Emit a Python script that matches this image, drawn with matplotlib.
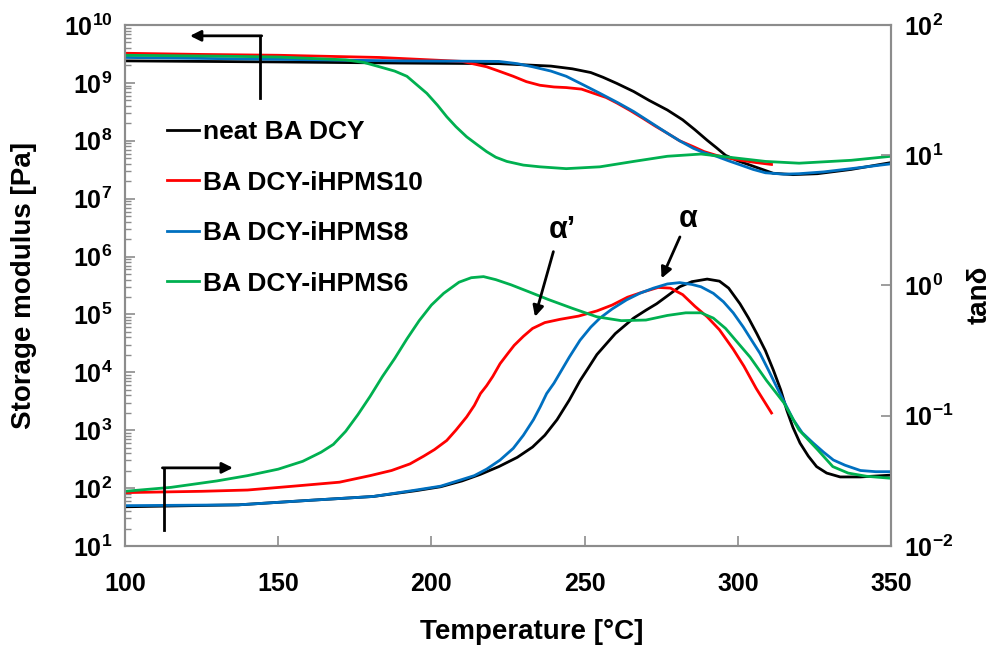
import matplotlib
matplotlib.use("Agg")
import matplotlib.pyplot as plt
from matplotlib.ticker import LogLocator, NullLocator, NullFormatter

plt.rcParams['font.family'] = ['Liberation Sans', 'DejaVu Sans']
plt.rcParams['font.weight'] = 'bold'
plt.rcParams['mathtext.fontset'] = 'custom'
plt.rcParams['mathtext.rm'] = 'Liberation Sans:bold'
plt.rcParams['mathtext.bf'] = 'Liberation Sans:bold'
plt.rcParams['mathtext.it'] = 'Liberation Sans:bold'

# storage modulus E' [Pa] vs temperature [°C]
t_e_neat = [100, 150, 190, 222, 239, 246, 252, 256, 260.5, 266, 271, 277, 282,
            286, 290, 293, 296, 300, 304, 308, 311.5, 318, 326, 337, 350]
e_neat = [2.4e9, 2.3e9, 2.2e9, 2.15e9, 1.95e9, 1.75e9, 1.51e9, 1.25e9, 9.8e8,
          7.1e8, 5.0e8, 3.4e8, 2.3e8, 1.55e8, 1.02e8, 7.6e7, 5.6e7, 4.5e7,
          3.8e7, 3.2e7, 2.75e7, 2.6e7, 2.7e7, 3.2e7, 4.2e7]

t_e_10 = [100, 125, 150, 183, 210, 218, 222, 226.7, 231, 235.4, 240, 244, 249,
          253, 257, 260.5, 265, 269, 273, 277, 281, 285.5, 289, 293, 297, 301,
          306, 311]
e_10 = [3.25e9, 3.1e9, 3.0e9, 2.75e9, 2.35e9, 1.9e9, 1.6e9, 1.3e9, 1.05e9,
        9.1e8, 8.5e8, 8.3e8, 7.8e8, 6.6e8, 5.6e8, 4.5e8, 3.3e8, 2.45e8, 1.8e8,
        1.35e8, 1.0e8, 7.9e7, 6.5e7, 5.6e7, 5.0e7, 4.6e7, 4.2e7, 3.9e7]

t_e_8 = [100, 150, 190, 222, 228, 233, 239, 244, 250, 255, 261, 266, 272, 277,
         281, 285.5, 289, 293, 297, 301, 305, 309, 315, 320, 328, 337, 350]
e_8 = [2.75e9, 2.55e9, 2.4e9, 2.35e9, 2.15e9, 1.9e9, 1.6e9, 1.3e9, 9.0e8,
       6.6e8, 4.5e8, 3.2e8, 2.0e8, 1.35e8, 1.0e8, 7.4e7, 6.2e7, 5.4e7, 4.5e7,
       3.8e7, 3.2e7, 2.8e7, 2.65e7, 2.7e7, 2.9e7, 3.3e7, 4.0e7]

t_e_6 = [100, 130, 150, 172, 178, 183, 188, 192, 195, 198.5, 202, 205, 208,
         211.5, 215, 218, 221, 224.6, 230, 235.4, 244, 255, 266, 277, 288,
         298.5, 309, 320, 337, 350]
e_6 = [3.0e9, 2.9e9, 2.8e9, 2.5e9, 2.25e9, 1.9e9, 1.6e9, 1.3e9, 9.5e8, 6.6e8,
       4.1e8, 2.6e8, 1.75e8, 1.17e8, 8.5e7, 6.5e7, 5.2e7, 4.4e7, 3.8e7,
       3.55e7, 3.3e7, 3.55e7, 4.4e7, 5.4e7, 5.9e7, 5.1e7, 4.4e7, 4.1e7, 4.6e7,
       5.4e7]

# tan delta vs temperature [°C]
t_d_neat = [100, 137, 160, 181, 195, 203, 210, 216, 222, 228, 233, 237, 241,
            245, 248.5, 251, 254, 257, 260, 263, 266, 270, 273.5, 277, 281,
            285, 290, 294, 297, 300.7, 303.5, 306.2, 309, 311.6, 314, 316, 318,
            320.3, 323, 325.7, 329, 333.4, 340, 350]
d_neat = [0.0200, 0.0207, 0.0224, 0.024, 0.0266, 0.0285, 0.0316, 0.0355,
          0.0407, 0.0479, 0.0575, 0.0708, 0.0933, 0.132, 0.186, 0.229, 0.295,
          0.355, 0.427, 0.490, 0.562, 0.646, 0.724, 0.832, 0.977, 1.07, 1.12,
          1.08, 0.955, 0.724, 0.562, 0.427, 0.316, 0.224, 0.158, 0.110,
          0.0813, 0.0617, 0.049, 0.0407, 0.0363, 0.0339, 0.0339, 0.035]

t_d_10 = [100, 125, 140, 155, 170, 180, 187, 193, 197.5, 201, 205, 208, 211.5,
          214, 216, 218, 220, 222.4, 225, 227, 230, 233, 237, 242, 248, 254,
          259, 264, 269, 274, 278, 282, 286, 290, 294, 298.5, 302, 306, 311]
d_10 = [0.0257, 0.0263, 0.0269, 0.0288, 0.0309, 0.0347, 0.038, 0.0427, 0.049,
        0.055, 0.0646, 0.0776, 0.098, 0.120, 0.148, 0.170, 0.200, 0.251,
        0.302, 0.347, 0.407, 0.468, 0.519, 0.55, 0.582, 0.638, 0.708, 0.813,
        0.891, 0.966, 0.955, 0.851, 0.692, 0.575, 0.457, 0.324, 0.240, 0.162,
        0.105]

t_d_8 = [100, 137, 160, 181, 195, 203, 210, 214, 218, 222.4, 226.7, 230,
         233.3, 235.5, 237.6, 240, 242, 245, 248.5, 252, 255, 259, 263.7, 268,
         272.5, 277, 281, 285, 288, 292, 295.3, 298.5, 301.8, 304.5, 307.2,
         310, 312.7, 315.5, 318.1, 321, 324.6, 328, 331.2, 335, 340, 345, 350]
d_8 = [0.0204, 0.0207, 0.0224, 0.024, 0.0269, 0.0288, 0.0324, 0.0347, 0.0389,
       0.0457, 0.0562, 0.0708, 0.0933, 0.117, 0.148, 0.178, 0.214, 0.282,
       0.380, 0.479, 0.562, 0.661, 0.776, 0.871, 0.955, 1.028, 1.052, 1.019,
       0.977, 0.871, 0.750, 0.617, 0.479, 0.380, 0.302, 0.224, 0.166, 0.123,
       0.0933, 0.0741, 0.0617, 0.0525, 0.0457, 0.0417, 0.038, 0.0372, 0.0372]

t_d_6 = [100, 115, 130, 140, 150, 158, 164, 168, 172, 176, 180, 184, 188, 192,
         196, 200, 204, 209, 213, 217, 221, 226, 232, 238, 246, 254, 262, 270,
         277, 283, 288, 292, 296, 300, 304, 309.4, 315, 320, 326, 331, 336,
         342, 350]
d_6 = [0.0263, 0.0282, 0.0316, 0.0347, 0.0389, 0.0447, 0.0525, 0.0603, 0.0759,
       0.102, 0.141, 0.200, 0.275, 0.389, 0.537, 0.708, 0.871, 1.06, 1.148,
       1.17, 1.109, 1.012, 0.891, 0.783, 0.668, 0.575, 0.537, 0.543, 0.589,
       0.617, 0.617, 0.562, 0.468, 0.363, 0.282, 0.186, 0.126, 0.0776, 0.055,
       0.0407, 0.0363, 0.0343, 0.0331]

names = ['neat BA DCY', 'BA DCY-iHPMS10', 'BA DCY-iHPMS8', 'BA DCY-iHPMS6']
colors = ['#000000', '#ff0000', '#0070c0', '#00b050']
x_ticks = [100, 150, 200, 250, 300, 350]
e_exps = list(range(1, 11))
d_exps = list(range(-2, 3))

storage = [(t_e_neat, e_neat), (t_e_10, e_10), (t_e_8, e_8), (t_e_6, e_6)]
damping = [(t_d_neat, d_neat), (t_d_10, d_10), (t_d_8, d_8), (t_d_6, d_6)]

grey = '#8c8c8c'
fig = plt.figure(figsize=(9.94, 6.46), dpi=100)
ax = fig.add_axes([0.1258, 0.1548, 0.7706, 0.8065])
ax2 = ax.twinx()

lines = []
for (t, e), c, n in zip(storage, colors, names):
    ln, = ax.plot(t, e, color=c, lw=2, label=n, solid_joinstyle='round')
    lines.append(ln)
for (t, d), c in zip(damping, colors):
    ax2.plot(t, d, color=c, lw=2, solid_joinstyle='round')

ax.set_xlim(100, 350)
ax.set_yscale('log')
ax.set_ylim(1e1, 1e10)
ax2.set_yscale('log')
ax2.set_ylim(1e-2, 1e2)

ax.set_xticks(x_ticks)
ax.set_xticklabels([str(v) for v in x_ticks])
ax.set_yticks([10.0 ** k for k in e_exps],
              labels=[rf'$\mathbf{{10^{{{k}}}}}$' for k in e_exps])
ax.yaxis.set_minor_locator(LogLocator(base=10, subs=range(2, 10), numticks=30))
ax.yaxis.set_minor_formatter(NullFormatter())
ax2.set_yticks([10.0 ** k for k in d_exps],
               labels=[rf'$\mathbf{{10^{{{k}}}}}$' for k in d_exps])
ax2.yaxis.set_minor_locator(NullLocator())
ax2.yaxis.set_minor_formatter(NullFormatter())

ax.tick_params(axis='both', which='major', direction='in', length=7, width=1.2,
               color=grey, labelsize=18)
ax.tick_params(axis='y', which='minor', direction='in', length=4.5, width=1,
               color=grey)
ax.tick_params(axis='x', pad=19)
ax.tick_params(axis='y', pad=9)
ax2.tick_params(axis='y', which='major', direction='in', length=7, width=1.2,
                color=grey, labelsize=18, pad=9)
for a in (ax, ax2):
    for s in a.spines.values():
        s.set_color(grey)
        s.set_linewidth(1.5)

ax.set_xlabel('Temperature [°C]', fontsize=20, fontweight='bold')
ax.xaxis.set_label_coords(0.531, -0.14)
ax.set_ylabel('Storage modulus [Pa]', fontsize=20, fontweight='bold')
ax.yaxis.set_label_coords(-0.115, 0.5)
ax2.set_ylabel('tanδ', fontsize=20, fontweight='bold')
ax2.yaxis.set_label_coords(1.099, 0.482)

ax2.legend(lines, names, loc='upper left', bbox_to_anchor=(0.055, 0.817),
           frameon=False, fontsize=19, handlelength=1.2, handletextpad=0.15,
           labelspacing=1.0, borderaxespad=0, borderpad=0)

# peak markers
arrow = dict(arrowstyle='-|>', color='black', lw=2, mutation_scale=16,
             shrinkA=0, shrinkB=0)
ax2.annotate('', xy=(233.8, 0.575), xytext=(239.8, 1.82), arrowprops=arrow)
ax2.text(242.6, 2.67, 'α’', ha='center', va='center', fontsize=22,
         fontweight='bold')
ax2.annotate('', xy=(275.1, 1.135), xytext=(281.1, 2.36), arrowprops=arrow)
ax2.text(283.7, 3.24, 'α', ha='center', va='center', fontsize=22,
         fontweight='bold')

# axis pointers: upper set to the left scale, lower set to the right scale
ax.plot([144.1, 144.1], [5.5e8, 6.5e9], color='black', lw=2)
ax.annotate('', xy=(121.2, 6.5e9), xytext=(144.6, 6.5e9), arrowprops=arrow)
ax2.plot([112.7, 112.7], [0.0133, 0.0398], color='black', lw=2)
ax2.annotate('', xy=(135.2, 0.0398), xytext=(112.2, 0.0398), arrowprops=arrow)

fig.savefig('out.png', dpi=100)
